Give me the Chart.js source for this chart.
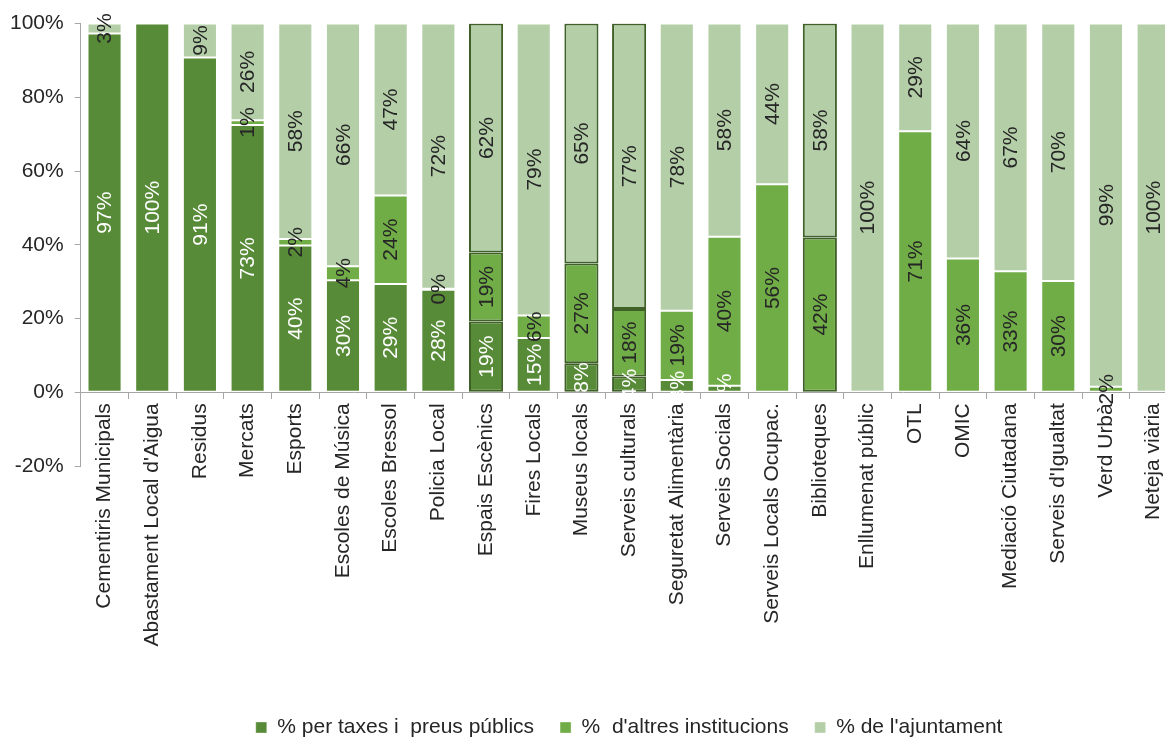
<!DOCTYPE html>
<html>
<head>
<meta charset="utf-8">
<script src="https://cdn.jsdelivr.net/npm/chart.js@4/dist/chart.umd.min.js"></script>
<style>
  html, body { margin: 0; padding: 0; background: #fff; overflow: hidden; }
  /* the plot runs a little past the right edge of the window, as in the source */
  #wrap { width: 1184px; height: 738px; position: relative; }
</style>
</head>
<body>
<div id="wrap"><canvas id="chart"></canvas></div>
<script>
  // categories and series (shares in %)
  const categories = [
    "Cementiris Municipals", "Abastament Local d'Aigua", "Residus", "Mercats", "Esports",
    "Escoles de Música", "Escoles Bressol", "Policia Local", "Espais Escènics", "Fires Locals",
    "Museus locals", "Serveis culturals", "Seguretat Alimentària", "Serveis Socials",
    "Serveis Locals Ocupac.", "Biblioteques", "Enllumenat públic", "OTL", "OMIC",
    "Mediació Ciutadana", "Serveis d'Igualtat", "Verd Urbà", "Neteja viària"
  ];
  const taxesPreus = [97.3, 100, 90.8, 72.5, 39.8, 30.4, 29.4, 27.8, 19.2, 14.7, 7.9, 4.3, 3.3, 1.8, 0, 0, 0, 0, 0, 0, 0, 0, 0];
  const altresInst = [0, 0, 0, 1.3, 1.8, 3.8, 24, 0.3, 18.7, 6.1, 27, 18.3, 18.8, 40.4, 56.4, 42, 0, 70.8, 36.3, 32.8, 30.2, 1.5, 0];
  const ajuntament = [2.7, 0, 9.2, 26.2, 58.4, 65.8, 46.6, 71.9, 62.1, 79.2, 65.1, 77.4, 77.9, 57.8, 43.6, 58, 100, 29.2, 63.7, 67.2, 69.8, 98.5, 100];
  const outlined = ["Espais Escènics", "Museus locals", "Serveis culturals", "Biblioteques"];
  const yTicks = [-20, 0, 20, 40, 60, 80, 100];

  const FONT = "'Liberation Sans', Arial, sans-serif";
  const TEXT = "#262626";
  const AXIS = "#a6a6a6";
  const EDGE = "#3f6128";

  const isOutlined = categories.map(c => outlined.includes(c));

  function makeSet(label, data, color, labelColor){
    return {
      label,
      data,
      backgroundColor: color,
      borderColor: isOutlined.map(o => o ? EDGE : "rgba(255,255,255,0.35)"),
      borderWidth: isOutlined.map(o => o ? 2 : 1),
      borderSkipped: false,
      labelColor
    };
  }

  // values drawn rotated in the middle of each segment
  const segmentLabels = {
    id: "segmentLabels",
    afterDatasetsDraw(chart){
      const ctx = chart.ctx;
      ctx.save();
      ctx.font = "21px " + FONT;
      ctx.textAlign = "center";
      ctx.textBaseline = "middle";
      chart.data.datasets.forEach((ds, i) => {
        const meta = chart.getDatasetMeta(i);
        meta.data.forEach((bar, j) => {
          const v = ds.data[j];
          if(!(v > 0)) return;
          const p = bar.getProps(["x", "y", "base"], true);
          ctx.save();
          ctx.translate(p.x, (p.y + p.base) / 2);
          ctx.rotate(-Math.PI / 2);
          ctx.fillStyle = ds.labelColor;
          ctx.fillText(Math.round(v) + "%", 0, 1);
          ctx.restore();
        });
      });
      ctx.restore();
    }
  };

  // keeps room for the category names between the plot and the legend
  const labelSpace = {
    id: "labelSpace",
    beforeInit(chart){
      Chart.layouts.addBox(chart, {
        position: "bottom",
        weight: 0,
        fullSize: false,
        options: {},
        isHorizontal(){ return true; },
        update(maxWidth){ this.width = maxWidth; this.height = 225; },
        draw(){},
        _layers(){ return []; }
      });
    }
  };

  new Chart(document.getElementById("chart"), {
    type: "bar",
    data: {
      labels: categories,
      datasets: [
        makeSet("% per taxes i  preus públics", taxesPreus, "#578b37", "#ffffff"),
        makeSet("%  d'altres institucions", altresInst, "#70ad47", TEXT),
        makeSet("% de l'ajuntament", ajuntament, "#b4cfa8", TEXT)
      ]
    },
    options: {
      responsive: true,
      maintainAspectRatio: false,
      animation: false,
      layout: { padding: { left: -1, right: 0, top: 14, bottom: -10 } },
      datasets: { bar: { barPercentage: 0.715, categoryPercentage: 1 } },
      scales: {
        x: {
          stacked: true,
          position: { y: 0 },
          grid: { offset: true, drawOnChartArea: false, tickLength: 6, color: AXIS },
          border: { color: AXIS },
          ticks: { color: TEXT, font: { family: FONT, size: 21 }, maxRotation: 90, minRotation: 90, padding: 5, autoSkip: false }
        },
        y: {
          stacked: true,
          min: yTicks[0],
          max: yTicks[yTicks.length - 1],
          afterBuildTicks(scale){ scale.ticks = yTicks.map(v => ({ value: v })); },
          grid: { drawOnChartArea: false, tickLength: 6, color: AXIS },
          border: { color: AXIS },
          ticks: { color: TEXT, font: { family: FONT, size: 21 }, padding: 11, callback: v => v + "%" }
        }
      },
      plugins: {
        legend: {
          position: "bottom",
          fullSize: false,
          labels: { color: TEXT, font: { family: FONT, size: 21 }, boxWidth: 11, boxHeight: 11, padding: 26 }
        },
        tooltip: { enabled: false }
      }
    },
    plugins: [segmentLabels, labelSpace]
  });
</script>
</body>
</html>
